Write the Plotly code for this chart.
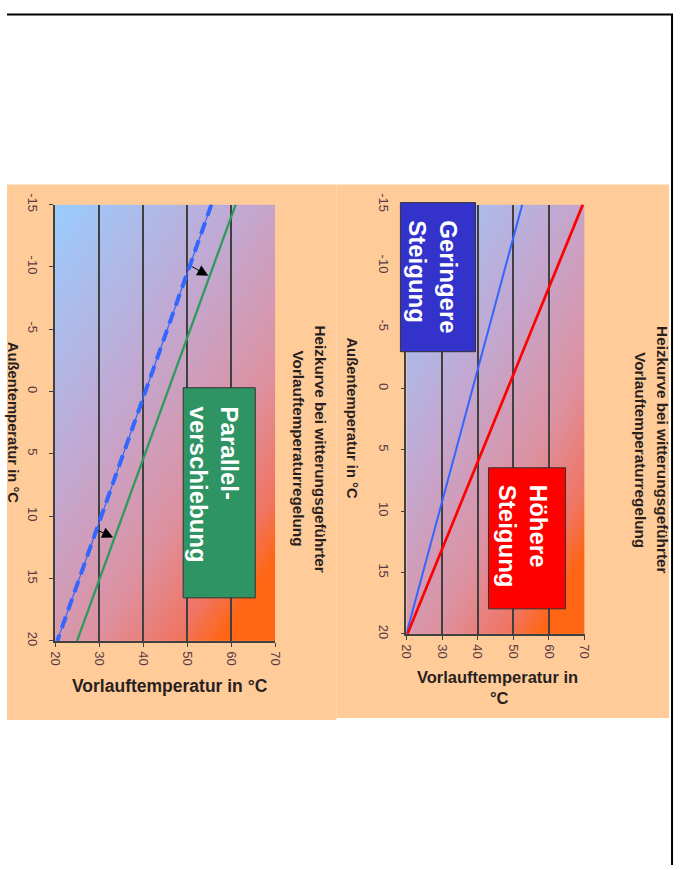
import base64
import plotly.graph_objects as go

W, H = 681, 870

# ---- data ----
outside_temp = [-15, 20]                 # Außentemperatur in °C
left_base_curve = [55.5, 20.5]           # blue dashed (original curve)
left_shifted_curve = [61.0, 25.0]        # green (parallel shift)
right_low_slope = [52.5, 20.0]           # blue (geringere Steigung)
right_high_slope = [69.5, 20.3]          # red (höhere Steigung)
x_ticks = [20, 30, 40, 50, 60, 70]
y_ticks = [-15, -10, -5, 0, 5, 10, 15, 20]
y_tick_text = ["-15", "-10", "-5", "0", "5", "10", "15", "20"]

# screen-capture compensation (photo maps page px -> picture px)
SX, OX, SY, OY = 0.977, 7.0, 0.981, 10.5


def cx(x):  # picture x -> page px
    return (x - OX) / SX


def cy(y):
    return (y - OY) / SY


def px(x):
    return min(max(cx(x) / W, 0), 1)


def py(y):
    return min(max(1 - cy(y) / H, 0), 1)


svg = ("<svg xmlns='http://www.w3.org/2000/svg' width='100' height='100' viewBox='0 0 100 100' "
       "preserveAspectRatio='none'><defs><linearGradient id='g' x1='0' y1='0' x2='0.75' y2='1'>"
       "<stop offset='0' stop-color='#99CCFF'/><stop offset='0.42' stop-color='#C2A8D2'/>"
       "<stop offset='0.72' stop-color='#DD91A0'/><stop offset='0.9' stop-color='#EF7564'/>"
       "<stop offset='1' stop-color='#FF6614'/>"
       "</linearGradient></defs><rect width='100' height='100' fill='url(#g)'/></svg>")
grad_src = "data:image/svg+xml;base64," + base64.b64encode(svg.encode()).decode()

fig = go.Figure()

# left chart traces
fig.add_trace(go.Scatter(x=left_base_curve, y=outside_temp, mode="lines",
                         line=dict(color="#3366FF", width=1.2), xaxis="x", yaxis="y"))
fig.add_trace(go.Scatter(x=left_base_curve, y=outside_temp, mode="lines",
                         line=dict(color="#3366FF", width=4, dash="12px,7px"), xaxis="x", yaxis="y"))
fig.add_trace(go.Scatter(x=left_shifted_curve, y=outside_temp, mode="lines",
                         line=dict(color="#2E9A5C", width=2.3), xaxis="x", yaxis="y"))
# right chart traces
fig.add_trace(go.Scatter(x=right_low_slope, y=outside_temp, mode="lines",
                         line=dict(color="#3366FF", width=2), xaxis="x2", yaxis="y2"))
fig.add_trace(go.Scatter(x=right_high_slope, y=outside_temp, mode="lines",
                         line=dict(color="#FF0000", width=2.7), xaxis="x2", yaxis="y2"))

tickfont = dict(family="Liberation Sans, Arial, sans-serif", size=13, color="#5a3a44")
common_x = dict(range=[20, 70], tickvals=x_ticks, tickangle=90, ticks="outside", ticklen=4,
                tickcolor="#404040", showline=True, linecolor="#404040", linewidth=1.5,
                showgrid=True, gridcolor="#404040", gridwidth=1.5, zeroline=False,
                tickfont=tickfont, fixedrange=True, ticklabelstandoff=2)
common_y = dict(range=[20, -15], tickvals=y_ticks, ticktext=y_tick_text, tickangle=90,
                ticks="outside", ticklen=4, tickcolor="#404040", showline=True,
                linecolor="#404040", linewidth=1.5, showgrid=False, zeroline=False,
                tickfont=tickfont, fixedrange=True, ticklabelstandoff=6)

fig.update_layout(
    margin=dict(l=0, r=0, t=0, b=0),
    paper_bgcolor="white", plot_bgcolor="rgba(0,0,0,0)", showlegend=False,
    xaxis=dict(domain=[px(55), px(275)], anchor="y", **common_x),
    yaxis=dict(domain=[py(640), py(204)], anchor="x", **common_y),
    xaxis2=dict(domain=[px(406), px(584)], anchor="y2", **common_x),
    yaxis2=dict(domain=[py(633), py(204)], anchor="x2", **common_y),
)

# gradient plot backgrounds
for xr, yr in (("x", "y"), ("x2", "y2")):
    fig.add_layout_image(dict(source=grad_src, xref=xr + " domain", yref=yr + " domain",
                              x=0, y=1, sizex=1, sizey=1, xanchor="left", yanchor="top",
                              sizing="stretch", layer="below"))
    fig.add_shape(type="rect", xref=xr + " domain", yref=yr + " domain", x0=0, x1=1, y0=0, y1=1,
                  line=dict(color="#8a8a8a", width=1.2), fillcolor="rgba(0,0,0,0)", layer="below")

# peach panels and frame
fig.add_shape(type="rect", xref="paper", yref="paper", x0=0, x1=px(336), y0=py(719), y1=py(184),
              line=dict(width=0), fillcolor="#FFCC99", layer="below")
fig.add_shape(type="rect", xref="paper", yref="paper", x0=px(336), x1=677 / W, y0=py(717), y1=py(184),
              line=dict(width=0), fillcolor="#FFCC99", layer="below")
fig.add_shape(type="line", xref="paper", yref="paper", x0=0, x1=681 / W, y0=py(14), y1=py(14),
              line=dict(color="black", width=2))
fig.add_shape(type="line", xref="paper", yref="paper", x0=680 / W, x1=680 / W, y0=py(14), y1=0,
              line=dict(color="black", width=2))

font_b = "Liberation Sans, Arial, sans-serif"


def text(x, y, t, size, angle=0, bold=True, color="#2a1f1f", align="center"):
    fig.add_annotation(x=px(x), y=py(y), xref="paper", yref="paper", text=(f"<b>{t}</b>" if bold else t),
                       showarrow=False, textangle=angle, xanchor="center", yanchor="middle",
                       align=align, font=dict(family=font_b, size=size, color=color))


# titles
text(320, 448, "Heizkurve bei witterungsgeführter", 15.3, 90)
text(298, 448, "Vorlauftemperaturregelung", 15.3, 90)
text(662, 449, "Heizkurve bei witterungsgeführter", 15.3, 90)
text(640, 449, "Vorlauftemperaturregelung", 15.3, 90)
# axis titles
text(13, 422, "Außentemperatur in °C", 14.8, 90)
text(352, 418, "Außentemperatur in °C", 14.8, 90)
text(170, 685, "Vorlauftemperatur in °C", 17.5)
text(497, 676, "Vorlauftemperatur in", 16.5)
text(499, 697, "°C", 16.5)


def box(x0, x1, y0, y1, tx, ty, t, bg):
    fig.add_shape(type="rect", xref="paper", yref="paper", x0=px(x0), x1=px(x1), y0=py(y1), y1=py(y0),
                  line=dict(color="#333333", width=1), fillcolor=bg, layer="above")
    text(tx, ty, t, 24, 90, color="white", align="left")


box(183, 255, 387, 597, 214, 484, "Parallel-<br>verschiebung", "#2E9463")
box(400, 475, 202, 351, 433, 276, "Geringere<br>Steigung", "#3333CC")
box(488, 565, 467, 608, 522.5, 535, "Höhere<br>Steigung", "#FF0000")

# arrows (parallel shift)
for (x0, y0, x1, y1) in ((50.7, -10.1, 54.8, -9.3), (29.5, 11.1, 33.2, 11.7)):
    fig.add_annotation(x=x1, y=y1, ax=x0, ay=y0, xref="x", yref="y", axref="x", ayref="y",
                       showarrow=True, arrowhead=2, arrowsize=2.2, arrowwidth=1,
                       arrowcolor="black", text="")

post = ("document.documentElement.style.margin='0';document.body.style.margin='0';"
        "document.body.style.padding='0';document.documentElement.style.overflow='hidden';"
        "document.body.style.overflow='hidden';")
fig.write_html("out.html", post_script=post, config={"displayModeBar": False},
               default_width="681px; position:absolute; left:0px; top:0px",
               default_height="870px")
